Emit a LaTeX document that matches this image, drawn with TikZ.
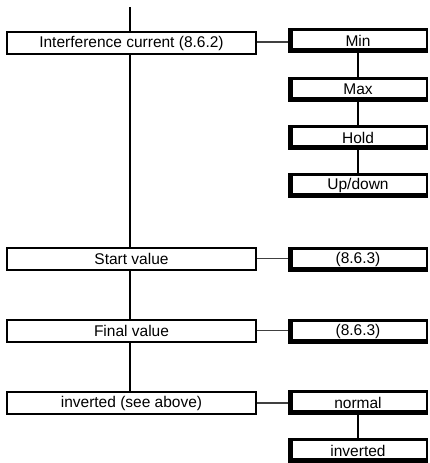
\documentclass[tikz,border=0pt]{standalone}
\usepackage{fontspec}
\setmainfont{Liberation Sans}
\begin{document}
\begin{tikzpicture}[x=1pt,y=-1pt,
  lbox/.style={draw, line width=2pt, minimum width=249pt, minimum height=22pt, inner sep=0pt,
    font=\fontsize{15.5pt}{18pt}\selectfont},
  rbox/.style={draw, line width=2.5pt, minimum width=138pt, minimum height=22pt, inner sep=0pt,
    font=\fontsize{15.5pt}{18pt}\selectfont,
    path picture={\draw[line width=8pt]
      (path picture bounding box.north west) -- (path picture bounding box.south west)
      -- (path picture bounding box.south east);}},
  trunk/.style={line width=2.5pt},
  hlink/.style={line width=1.5pt, black!75},
  vlink/.style={line width=2.5pt}]
\useasboundingbox (0,0) rectangle (430,463);
\coordinate (top) at (130,7);
\node[lbox] (ic) at (131.5,43) {Interference current (8.6.2)};
\node[lbox] (sv) at (131.5,258.5) {Start value};
\node[lbox] (fv) at (131.5,330.5) {Final value};
\node[lbox] (iv) at (131.5,403) {inverted (see above)};
\node[rbox] (min) at (358,40.5) {Min};
\node[rbox] (max) at (358,89.5) {Max};
\node[rbox] (hold) at (358,137.5) {Hold};
\node[rbox] (ud) at (358,185.5) {Up/down};
\node[rbox] (s3) at (358,259.5) {(8.6.3)};
\node[rbox] (f3) at (358,331.5) {(8.6.3)};
\node[rbox] (nor) at (358,402.5) {normal};
\node[rbox] (inv) at (358,450.5) {inverted};
\draw[trunk] (top) -- (top |- ic.north);
\draw[trunk] (top |- ic.south) -- (top |- sv.north);
\draw[trunk] (top |- sv.south) -- (top |- fv.north);
\draw[trunk] (top |- fv.south) -- (top |- iv.north);
\draw[hlink] (ic.east |- 0,42) -- (min.west |- 0,42);
\draw[hlink] (sv.east) -- (sv.east -| s3.west);
\draw[hlink] (fv.east) -- (fv.east -| f3.west);
\draw[hlink] (iv.east) -- (iv.east -| nor.west);
\draw[vlink] (min.south) -- (max.north);
\draw[vlink] (max.south) -- (hold.north);
\draw[vlink] (hold.south) -- (ud.north);
\draw[vlink] (nor.south) -- (inv.north);
\end{tikzpicture}
\end{document}
